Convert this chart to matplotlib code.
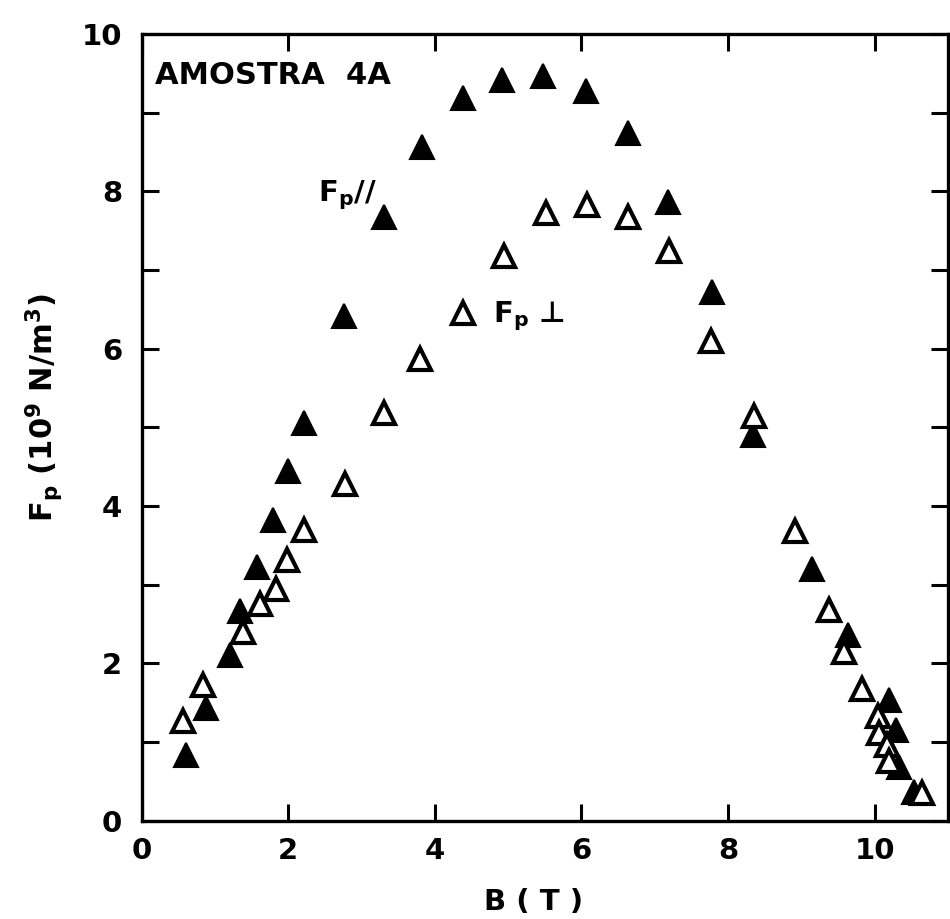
import matplotlib
matplotlib.use("Agg")
import matplotlib.pyplot as plt
from matplotlib.ticker import MultipleLocator

# --- DATA ---
# Fp parallel (filled triangles)
b_par = [0.60, 0.88, 1.20, 1.34, 1.58, 1.79, 2.00, 2.21, 2.76, 3.30, 3.82, 4.38, 4.91,
         5.48, 6.06, 6.64, 7.18, 7.78, 8.34, 9.14, 9.63, 10.20, 10.29, 10.33, 10.54]
fp_par = [0.83, 1.43, 2.11, 2.66, 3.23, 3.82, 4.45, 5.05, 6.41, 7.68, 8.56, 9.19, 9.41,
          9.46, 9.27, 8.74, 7.87, 6.72, 4.90, 3.20, 2.36, 1.53, 1.15, 0.68, 0.37]

# Fp perpendicular (open triangles)
b_perp = [0.57, 0.84, 1.39, 1.61, 1.83, 1.99, 2.21, 2.77, 3.30, 3.80, 4.38, 4.94, 5.51,
          6.08, 6.64, 7.20, 7.77, 8.35, 8.91, 9.38, 9.58, 9.82, 10.04, 10.06, 10.16,
          10.19, 10.65]
fp_perp = [1.27, 1.72, 2.40, 2.75, 2.94, 3.31, 3.69, 4.28, 5.18, 5.87, 6.45, 7.18, 7.73,
           7.83, 7.68, 7.24, 6.10, 5.14, 3.68, 2.68, 2.15, 1.68, 1.33, 1.11, 0.96,
           0.76, 0.35]

x_ticks = [0, 2, 4, 6, 8, 10]
y_ticks = [0, 2, 4, 6, 8, 10]

# --- STYLE ---
plt.rcParams['font.family'] = ['DejaVu Sans']
plt.rcParams['font.weight'] = 'bold'
plt.rcParams['mathtext.fontset'] = 'dejavusans'
plt.rcParams['mathtext.default'] = 'bf'

fig = plt.figure(figsize=(9.5, 9.19), dpi=100)
ax = fig.add_axes([0.149, 0.107, 0.849, 0.856])

ax.plot(b_par, fp_par, linestyle='none', marker='^', markersize=17,
        markerfacecolor='black', markeredgecolor='black', markeredgewidth=1.5)
ax.plot(b_perp, fp_perp, linestyle='none', marker='^', markersize=16,
        markerfacecolor='white', markeredgecolor='black', markeredgewidth=3)

ax.set_xlim(0, 11)
ax.set_ylim(0, 10)
ax.set_xticks(x_ticks)
ax.set_yticks(y_ticks)
ax.yaxis.set_minor_locator(MultipleLocator(1))

ax.tick_params(which='both', direction='in', width=2.2, length=12, top=True, right=True,
               labelsize=21)
ax.tick_params(axis='x', pad=12)
ax.tick_params(axis='y', pad=14)
for s in ax.spines.values():
    s.set_linewidth(2.4)

ax.text(0.18, 9.47, "AMOSTRA  4A", fontsize=22, fontweight='bold', va='center', ha='left')
ax.text(2.40, 7.95, "F$_p$//", fontsize=21, fontweight='bold', va='center', ha='left')
ax.text(4.80, 6.41, "F$_p$ ⊥", fontsize=21, fontweight='bold', va='center', ha='left')

ax.set_xlabel("B ( T )", fontsize=21, fontweight='bold')
ax.xaxis.set_label_coords(0.486, -0.086)
ax.set_ylabel("F$_p$ (10$^9$ N/m$^3$)", fontsize=22, fontweight='bold')
ax.yaxis.set_label_coords(-0.095, 0.525)

fig.savefig("out.png", dpi=100)
